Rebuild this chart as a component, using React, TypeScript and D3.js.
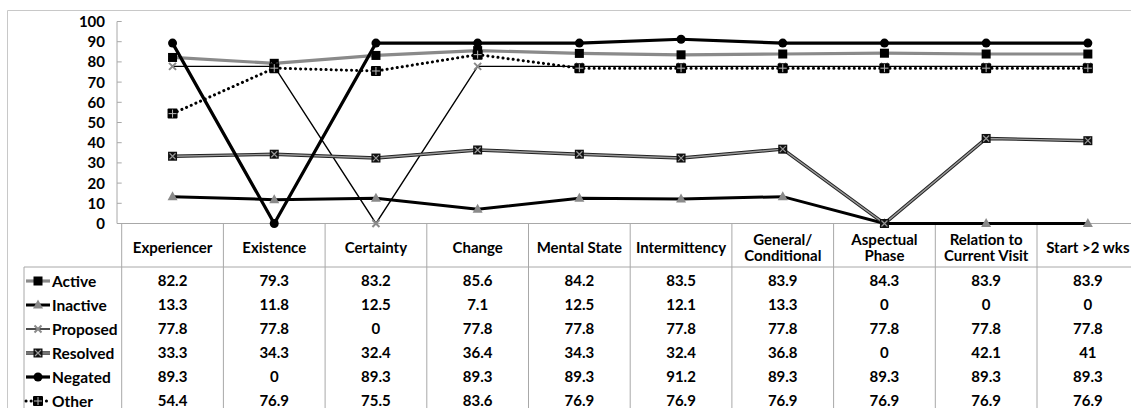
import * as d3 from "d3";

const categories = ["Experiencer", "Existence", "Certainty", "Change", "Mental State", "Intermittency", "General/\nConditional", "Aspectual\nPhase", "Relation to\nCurrent Visit", "Start >2 wks"];
const yTicks = [0, 10, 20, 30, 40, 50, 60, 70, 80, 90, 100];

const active = [82.2, 79.3, 83.2, 85.6, 84.2, 83.5, 83.9, 84.3, 83.9, 83.9];
const inactive = [13.3, 11.8, 12.5, 7.1, 12.5, 12.1, 13.3, 0, 0, 0];
const proposed = [77.8, 77.8, 0, 77.8, 77.8, 77.8, 77.8, 77.8, 77.8, 77.8];
const resolved = [33.3, 34.3, 32.4, 36.4, 34.3, 32.4, 36.8, 0, 42.1, 41];
const negated = [89.3, 0, 89.3, 89.3, 89.3, 91.2, 89.3, 89.3, 89.3, 89.3];
const other = [54.4, 76.9, 75.5, 83.6, 76.9, 76.9, 76.9, 76.9, 76.9, 76.9];

const seriesNames = ["Active", "Inactive", "Proposed", "Resolved", "Negated", "Other"];
const seriesValues = [active, inactive, proposed, resolved, negated, other];

const W = 1131, H = 408;
const FONT = "Lato, 'Open Sans', sans-serif";
const GRID = "#a8a8a8";
const GRAY = "#8a8a8a";

function Marker({name, x, y}: {name: string, x: number, y: number}) {
    switch (name) {
        case "Active":
            return <rect x={x - 4.5} y={y - 4.5} width={9} height={9} fill="#000"/>;
        case "Inactive":
            return <path d={`M${x},${y - 5.5}L${x + 5},${y + 3.5}L${x - 5},${y + 3.5}Z`} fill={GRAY}/>;
        case "Proposed":
            return <path d={`M${x - 3.5},${y - 3.5}L${x + 3.5},${y + 3.5}M${x + 3.5},${y - 3.5}L${x - 3.5},${y + 3.5}`}
                         stroke={GRAY} strokeWidth={2}/>;
        case "Resolved":
            return <g>
                <rect x={x - 4.5} y={y - 4.5} width={9} height={9} fill="#111"/>
                <path d={`M${x - 3},${y - 3}L${x + 3},${y + 3}M${x + 3},${y - 3}L${x - 3},${y + 3}`}
                      stroke="#999" strokeWidth={1.2}/>
            </g>;
        case "Negated":
            return <circle cx={x} cy={y} r={4.5} fill="#000"/>;
        default:
            return <g>
                <rect x={x - 5} y={y - 5} width={10} height={10} rx={1} fill="#000"/>
                <path d={`M${x - 4},${y}L${x + 4},${y}M${x},${y - 4}L${x},${y + 4}`} stroke="#bbb" strokeWidth={1}/>
            </g>;
    }
}

function SeriesLine({name, d}: {name: string, d: string}) {
    switch (name) {
        case "Active":
            return <path d={d} fill="none" stroke={GRAY} strokeWidth={3.2}/>;
        case "Inactive":
            return <path d={d} fill="none" stroke="#000" strokeWidth={3}/>;
        case "Proposed":
            return <path d={d} fill="none" stroke="#000" strokeWidth={1.4}/>;
        case "Resolved":
            return <g>
                <path d={d} fill="none" stroke="#222" strokeWidth={3.4}/>
                <path d={d} fill="none" stroke="#9a9a9a" strokeWidth={1.4}/>
            </g>;
        case "Negated":
            return <path d={d} fill="none" stroke="#000" strokeWidth={3.2}/>;
        default:
            return <path d={d} fill="none" stroke="#000" strokeWidth={3} strokeDasharray="0.1 5" strokeLinecap="round"/>;
    }
}

export default function App() {
    const plotLeft = 121.7, band = 101.7;
    const x = d3.scaleBand<string>().domain(categories).range([plotLeft, plotLeft + band * categories.length]);
    const y = d3.scaleLinear().domain([0, 100]).range([223.5, 21.5]);
    const cx = (i: number) => (x(categories[i]) ?? 0) + x.bandwidth() / 2;

    const line = d3.line<number>().x((_, i) => cx(i)).y(v => y(v));

    const axisX = 117;
    const headerTop = y(0), tableTop = 267, rowH = 24, tableLeft = 24;

    return <div style={{position: "absolute", left: 0, top: 0}}>
        <svg width={W} height={H} viewBox={`0 0 ${W} ${H}`} style={{display: "block", fontFamily: FONT}}>
            <rect x={0} y={0} width={W} height={H} fill="#fff"/>
            <path d={`M7.5,${H}V10.5H${W}`} fill="none" stroke="#c8c8c8"/>

            {/* y axis */}
            <line x1={axisX} x2={axisX} y1={y(100)} y2={y(0)} stroke={GRID}/>
            {yTicks.map(t => <g key={t}>
                <line x1={axisX} x2={plotLeft} y1={y(t)} y2={y(t)} stroke={GRID}/>
                <text x={105} y={y(t)} dy="0.36em" textAnchor="end" fontSize={15} fontWeight="bold">{t}</text>
            </g>)}
            <line x1={axisX} x2={W} y1={y(0)} y2={y(0)} stroke={GRID}/>

            {/* table grid */}
            {d3.range(categories.length + 1).map(i => {
                const xx = plotLeft + i * band;
                return <line key={i} x1={xx} x2={xx} y1={headerTop} y2={H} stroke={GRID}/>;
            })}
            <line x1={tableLeft} x2={W} y1={tableTop} y2={tableTop} stroke={GRID}/>
            <line x1={tableLeft} x2={tableLeft} y1={tableTop} y2={H} stroke={GRID}/>

            {/* header */}
            {categories.map((c, i) => {
                const lines = c.split("\n");
                const mid = (headerTop + tableTop) / 2 + 2;
                return <text key={c} x={cx(i)} textAnchor="middle" fontSize={15} fontWeight="bold">
                    {lines.map((l, j) => <tspan key={j} x={cx(i)}
                                                y={mid + (j - (lines.length - 1) / 2) * 16}
                                                dy="0.36em">{l}</tspan>)}
                </text>;
            })}

            {/* rows */}
            {seriesNames.map((name, r) => {
                const ry = tableTop + rowH * r + rowH / 2 + 2;
                const keyD = `M26,${ry}H50`;
                return <g key={name}>
                    <SeriesLine name={name} d={keyD}/>
                    <Marker name={name} x={38} y={ry}/>
                    <text x={52} y={ry} dy="0.36em" fontSize={15.5} fontWeight="bold">{name}</text>
                    {seriesValues[r].map((v, i) =>
                        <text key={i} x={cx(i)} y={ry} dy="0.36em" textAnchor="middle" fontSize={15}
                              fontWeight="bold">{v}</text>)}
                </g>;
            })}

            {/* series */}
            {seriesNames.map((name, r) => <g key={name}>
                <SeriesLine name={name} d={line(seriesValues[r]) ?? ""}/>
                {seriesValues[r].map((v, i) => <Marker key={i} name={name} x={cx(i)} y={y(v)}/>)}
            </g>)}
        </svg>
    </div>;
}
